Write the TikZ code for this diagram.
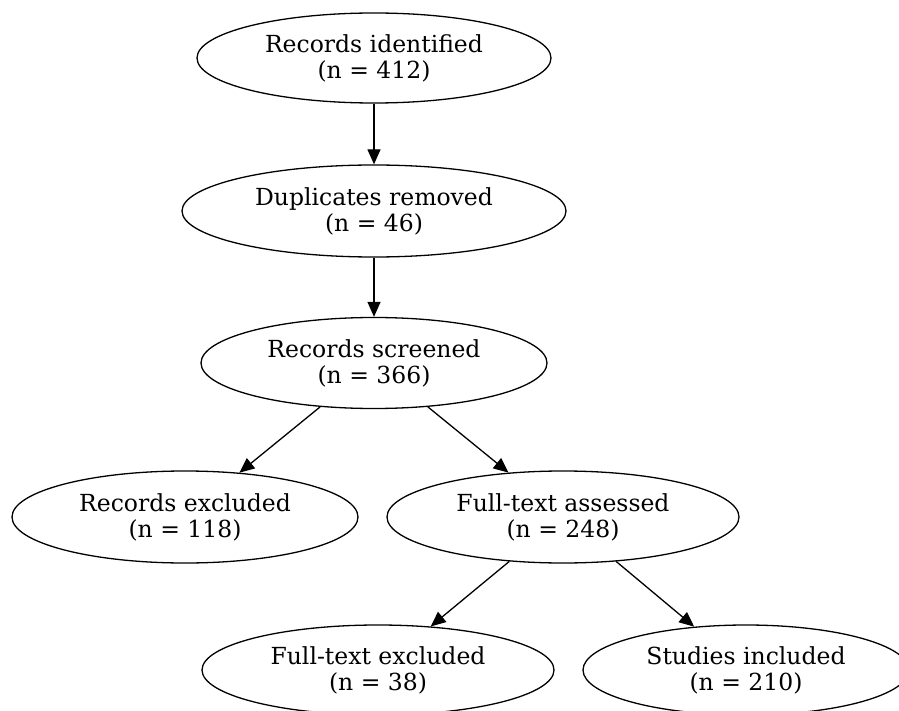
\documentclass[tikz,border=0pt]{standalone}
\usepackage{fontspec}
\setmainfont{DejaVu Serif}
\usetikzlibrary{shapes.geometric,arrows.meta}
\begin{document}
\begin{tikzpicture}[x=1pt,y=-1pt,
  box/.style={draw, ellipse, inner sep=0pt, line width=1.3pt, align=center,
    font=\fontsize{23.5}{26}\selectfont},
  link/.style={draw, line width=1.3pt, -{Triangle[length=15pt,width=13pt]}}]
\useasboundingbox (0,0) rectangle (899,711);
\clip (0,0) rectangle (899,711);
\node[box, minimum width=354pt, minimum height=90pt] (a) at (374,58) {Records identified\\(n = 412)};
\node[box, minimum width=384pt, minimum height=92pt] (b) at (374,211) {Duplicates removed\\(n = 46)};
\node[box, minimum width=346pt, minimum height=91pt] (c) at (374,363) {Records screened\\(n = 366)};
\node[box, minimum width=346pt, minimum height=92pt] (d) at (185,517) {Records excluded\\(n = 118)};
\node[box, minimum width=352pt, minimum height=92pt] (e) at (563,517) {Full-text assessed\\(n = 248)};
\node[box, minimum width=352pt, minimum height=90pt] (f) at (378,670) {Full-text excluded\\(n = 38)};
\node[box, minimum width=326pt, minimum height=90pt] (g) at (746,670) {Studies included\\(n = 210)};
\draw[link] (a) -- (b);
\draw[link] (b) -- (c);
\draw[link] (c) -- (d);
\draw[link] (c) -- (e);
\draw[link] (e) -- (f);
\draw[link] (e) -- (g);
\end{tikzpicture}
\end{document}
